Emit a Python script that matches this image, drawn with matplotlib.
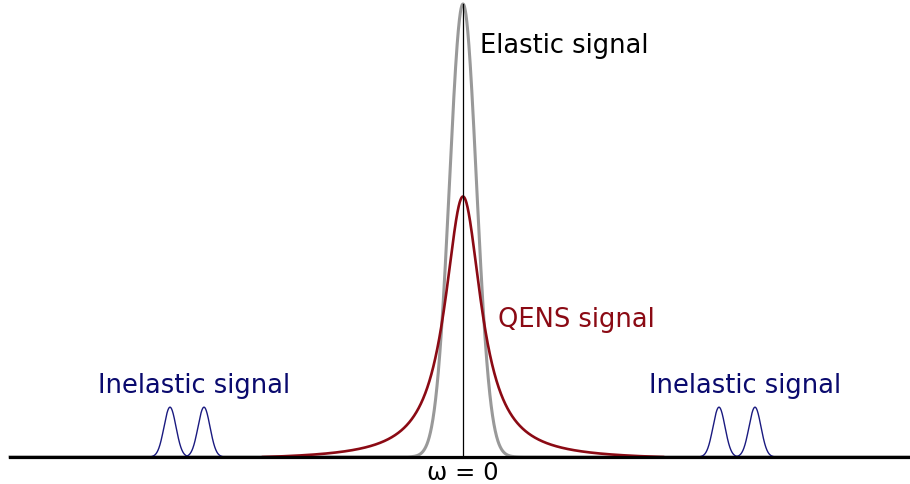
import numpy as np
import matplotlib.pyplot as plt

# peak parameters (energy transfer in arbitrary units, intensity normalised to elastic peak)
elastic_height = 1.0
elastic_sigma = 0.135
qens_height = 0.575
qens_gamma = 0.22
qens_cutoff = 2.0
inelastic_centers = [-2.93, -2.59, 2.56, 2.92]
inelastic_height = 0.11
inelastic_sigma = 0.06

x = np.linspace(-4.53, 4.47, 4000)


def gauss(x, x0, h, s):
    return h * np.exp(-(x - x0) ** 2 / (2 * s ** 2))


def lorentz(x, x0, h, g):
    return h / (1 + ((x - x0) / g) ** 2)


fig = plt.figure(figsize=(9.1, 4.85), dpi=100)
ax = fig.add_axes([0, 0, 1, 1])

# elastic (gray gaussian)
ax.plot(x, gauss(x, 0, elastic_height, elastic_sigma), color='#999999', lw=2.2, zorder=3)

# quasi-elastic (lorentzian, tails brought down to the baseline at the cutoff)
xq = np.linspace(-qens_cutoff, qens_cutoff, 2000)
tail = lorentz(qens_cutoff, 0, 1, qens_gamma)
yq = qens_height * (lorentz(xq, 0, 1, qens_gamma) - tail) / (1 - tail)
ax.plot(xq, yq, color='#8b0a14', lw=1.9, zorder=4)

# inelastic side peaks
for c in inelastic_centers:
    xs = np.linspace(c - 3 * inelastic_sigma, c + 3 * inelastic_sigma, 200)
    ax.plot(xs, gauss(xs, c, inelastic_height, inelastic_sigma), color='#1a1a80', lw=1.0, zorder=3)

# baseline and omega = 0 marker
ax.plot([-4.53, 4.5], [0, 0], color='black', lw=2.3, zorder=5)
ax.plot([0, 0], [0, elastic_height], color='black', lw=0.9, zorder=5)

fs = 18.5
ax.text(0.17, 0.91, 'Elastic signal', fontsize=fs, color='black', va='center', ha='left')
ax.text(0.35, 0.305, 'QENS signal', fontsize=fs, color='#8b0a14', va='center', ha='left')
ax.text(-3.65, 0.159, 'Inelastic signal', fontsize=fs, color='#0a0a6e', va='center', ha='left')
ax.text(1.86, 0.159, 'Inelastic signal', fontsize=fs, color='#0a0a6e', va='center', ha='left')
ax.text(0, -0.033, 'ω = 0', fontsize=17.5, color='black', va='center', ha='center')

ax.set_xlim(-4.63, 4.47)
ax.set_ylim(-27 / 453, 1 + 5 / 453)
ax.axis('off')

fig.savefig('out.png', dpi=100)
